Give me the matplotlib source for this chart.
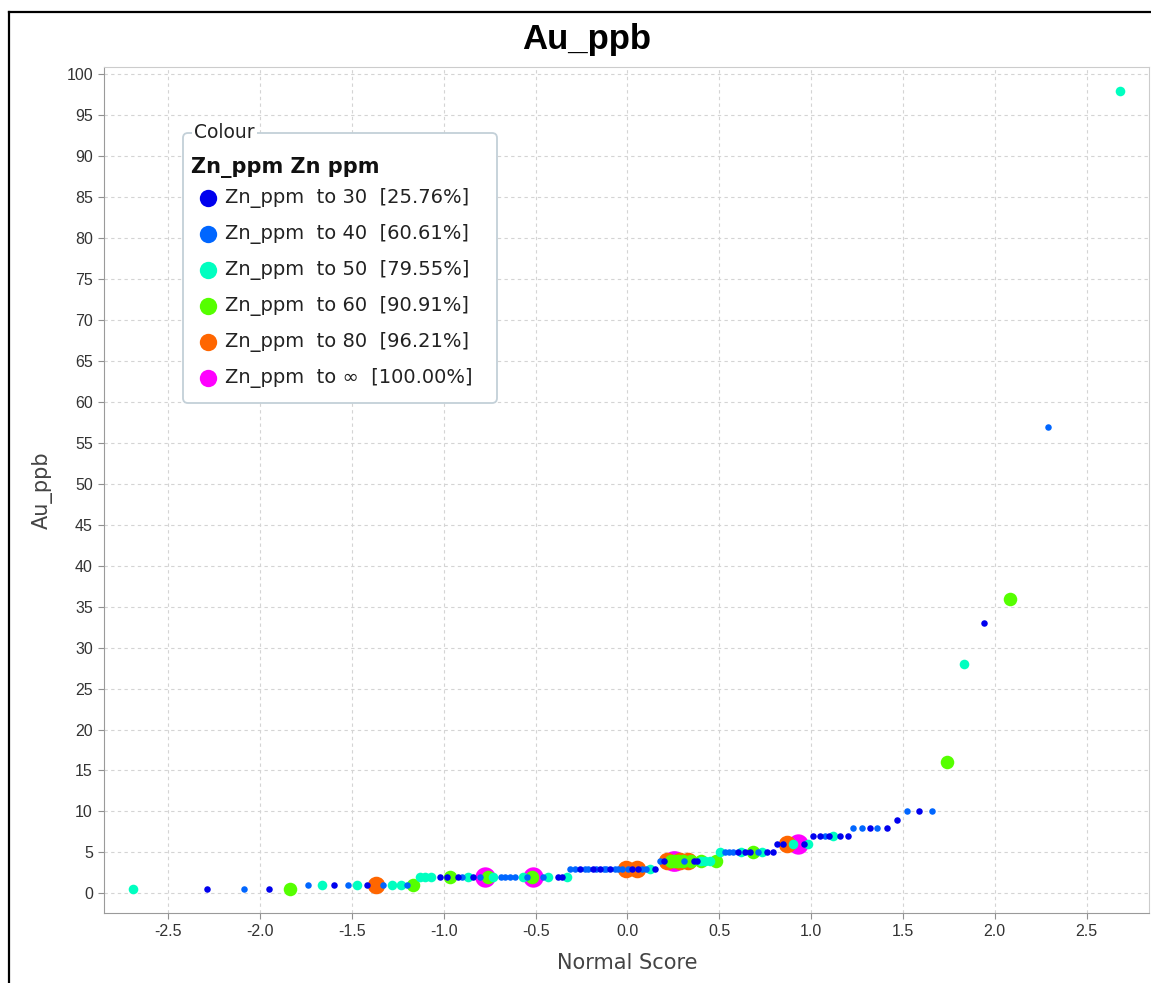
import matplotlib
matplotlib.use("Agg")
import matplotlib.pyplot as plt
from matplotlib.patches import FancyBboxPatch
from matplotlib.lines import Line2D

W, H = 1151, 983

# normal score / Au_ppb pairs, one list per Zn_ppm class
blue_ns = [-2.29, -1.95, -1.595, -1.42, -1.02, -0.98, -0.925, -0.84, -0.38, -0.355,
           -0.256, -0.19, -0.147, -0.093, 0.027, 0.06, 0.152, 0.20, 0.365, 0.38,
           0.60, 0.64, 0.665, 0.76, 0.79, 0.815, 0.845, 0.96, 1.01, 1.05, 1.095,
           1.16, 1.20, 1.32, 1.415, 1.47, 1.59, 1.94]
blue_au = [0.5, 0.5, 1, 1, 2, 2, 2, 2, 2, 2,
           3, 3, 3, 3, 3, 3, 3, 4, 4, 4,
           5, 5, 5, 5, 5, 6, 6, 6, 7, 7, 7,
           7, 7, 8, 8, 9, 10, 33]

lblue_ns = [-2.09, -1.74, -1.52, -1.33, -1.20, -0.90, -0.805, -0.69, -0.665, -0.64,
            -0.61, -0.545, -0.46, -0.31, -0.283, -0.229, -0.212, -0.169, -0.125,
            -0.115, -0.07, -0.05, -0.027, 0.005, 0.08, 0.103, 0.18, 0.31, 0.533,
            0.555, 0.577, 0.713, 1.078, 1.23, 1.28, 1.36, 1.524, 1.66, 2.29]
lblue_au = [0.5, 1, 1, 1, 1, 2, 2, 2, 2, 2,
            2, 2, 2, 3, 3, 3, 3, 3, 3,
            3, 3, 3, 3, 3, 3, 3, 4, 4, 5,
            5, 5, 5, 7, 8, 8, 8, 10, 10, 57]

cyan_ns = [-2.69, -1.665, -1.47, -1.28, -1.235, -1.127, -1.10, -1.072, -0.87, -0.73,
           -0.57, -0.43, -0.327, 0.125, 0.40, 0.425, 0.45, 0.506, 0.62, 0.735,
           0.90, 0.985, 1.12, 1.83, 2.68]
cyan_au = [0.5, 1, 1, 1, 1, 2, 2, 2, 2, 2,
           2, 2, 2, 3, 4, 4, 4, 5, 5, 5,
           6, 6, 7, 28, 98]

green_ns = [-1.835, -1.165, -0.965, -0.757, -0.517, 0.235, 0.256, 0.275, 0.30, 0.345,
            0.40, 0.48, 0.686, 1.74, 2.085]
green_au = [0.5, 1, 2, 2, 2, 4, 4, 4, 4, 4,
            4, 4, 5, 16, 36]

orange_ns = [-1.37, -0.01, 0.05, 0.215, 0.285, 0.33, 0.87]
orange_au = [1, 3, 3, 4, 4, 4, 6]

magenta_ns = [-0.773, -0.512, 0.25, 0.258, 0.93]
magenta_au = [2, 2, 4, 4, 6]

legend_labels = ["Zn_ppm  to 30  [25.76%]", "Zn_ppm  to 40  [60.61%]",
                 "Zn_ppm  to 50  [79.55%]", "Zn_ppm  to 60  [90.91%]",
                 "Zn_ppm  to 80  [96.21%]", "Zn_ppm  to \u221e  [100.00%]"]
colors = ["#0000EE", "#0066FF", "#00FFC0", "#55FF00", "#FF6600", "#FF00FF"]
sizes = [22, 22, 48, 95, 160, 215]

xticks = [-2.5, -2.0, -1.5, -1.0, -0.5, 0.0, 0.5, 1.0, 1.5, 2.0, 2.5]
yticks = list(range(0, 101, 5))

fig = plt.figure(figsize=(W / 100, H / 100), dpi=100)
ax = fig.add_axes([104 / W, 1 - 913 / H, (1149 - 104) / W, (913 - 67) / H])

series = [(blue_ns, blue_au), (lblue_ns, lblue_au), (cyan_ns, cyan_au),
          (green_ns, green_au), (orange_ns, orange_au), (magenta_ns, magenta_au)]
# big markers first so the small ones sit on top
for i in range(5, -1, -1):
    xs, ys = series[i]
    ax.scatter(xs, ys, s=sizes[i], c=colors[i], linewidths=0, zorder=3)

ax.set_xlim(-2.85, 2.84)
ax.set_ylim(-2.4, 100.9)
ax.set_xticks(xticks)
ax.set_xticklabels([f"{t:.1f}" for t in xticks])
ax.set_yticks(yticks)
ax.grid(True, color="#d4d4d4", linestyle=(0, (3, 3)), linewidth=0.8, zorder=0)
ax.set_axisbelow(True)
for lab in ax.get_xticklabels() + ax.get_yticklabels():
    lab.set_fontfamily("Liberation Sans")
    lab.set_fontsize(11.5)
ax.tick_params(length=4, color="#909090", labelcolor="#333333", direction="out", pad=4)
ax.spines["left"].set_color("#9a9a9a")
ax.spines["bottom"].set_color("#9a9a9a")
ax.spines["top"].set_color("#cccccc")
ax.spines["right"].set_color("#cccccc")

fig.text(587 / W, 1 - 40 / H, "Au_ppb", ha="center", va="center", fontsize=25,
         fontweight="bold", family="Liberation Sans", color="black")
fig.text(627 / W, 1 - 963 / H, "Normal Score", ha="center", va="center",
         fontsize=15, color="#444444")
fig.text(42 / W, 1 - 490 / H, "Au_ppb", ha="center", va="center", rotation=90,
         fontsize=15, color="#444444")

# outer panel border
fig.add_artist(Line2D([9 / W, 9 / W], [0, 1 - 12 / H], color="black", lw=1.6))
fig.add_artist(Line2D([9 / W, 1], [1 - 12 / H, 1 - 12 / H], color="black", lw=1.6))

# legend drawn in pixel coordinates
lax = fig.add_axes([0, 0, 1, 1])
lax.set_xlim(0, W)
lax.set_ylim(H, 0)
lax.axis("off")
lax.add_patch(FancyBboxPatch((183, 133), 314, 270,
                             boxstyle="round,pad=0,rounding_size=5",
                             fc="white", ec="#c3d0d8", lw=1.3))
lax.text(194, 133, "Colour", ha="left", va="center", fontsize=13.5, color="#222222",
         bbox=dict(fc="white", ec="none", pad=1.5))
lax.text(191, 167, "Zn_ppm Zn ppm", ha="left", va="center", fontsize=15,
         fontweight="bold", color="#111111")
for i, lab in enumerate(legend_labels):
    yy = 198 + i * 36
    lax.plot([208], [yy], "o", ms=12.5, color=colors[i], mew=0)
    lax.text(225, yy, lab, ha="left", va="center", fontsize=14, color="#222222")

fig.savefig("out.png", dpi=100)
